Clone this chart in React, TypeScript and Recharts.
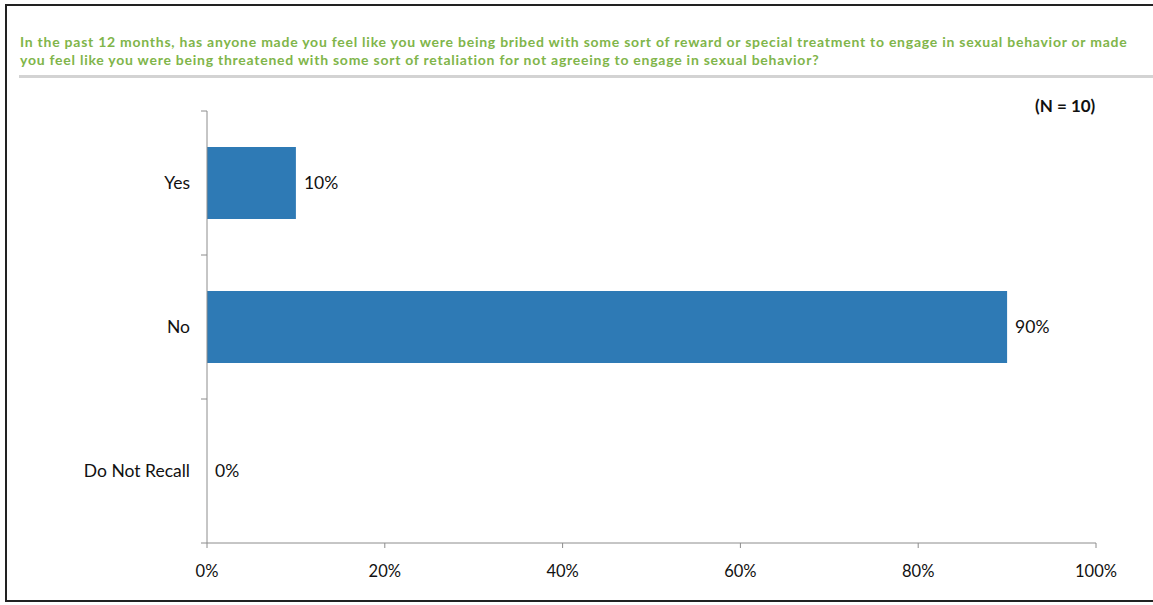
import React from 'react';
import { BarChart, Bar, XAxis, YAxis, LabelList } from 'recharts';

const categories = ['Yes', 'No', 'Do Not Recall'];
const percents = [10, 90, 0];
const xTicks = [0, 20, 40, 60, 80, 100];

const titleLines = [
  'In the past 12 months, has anyone made you feel like you were being bribed with some sort of reward or special treatment to engage in sexual behavior or made',
  'you feel like you were being threatened with some sort of retaliation for not agreeing to engage in sexual behavior?',
];
const sampleNote = '(N = 10)';

const data = categories.map((name, i) => ({ name, value: percents[i] }));

const font = 'Lato, "Open Sans", sans-serif';
const axisColor = '#8c8c8c';
const PLOT_TOP = 111;
const PLOT_BOTTOM = 543;
const band = (PLOT_BOTTOM - PLOT_TOP) / categories.length;

function CategoryTick(props: any) {
  const { x, y, payload, index } = props;
  const last = index === categories.length - 1;
  return (
    <g>
      <line x1={x + 2} x2={x + 8} y1={y - band / 2} y2={y - band / 2} stroke={axisColor} />
      {last && <line x1={x + 2} x2={x + 8} y1={y + band / 2} y2={y + band / 2} stroke={axisColor} />}
      <text x={x - 9} y={y} dy={6} textAnchor="end" fontSize={17.5} fill="#111" fontFamily={font}>
        {payload.value}
      </text>
    </g>
  );
}

export default function App() {
  return (
    <div style={{ position: 'absolute', left: 0, top: 0, width: 1153, height: 605, background: '#fff' }}>
      <div style={{ position: 'absolute', left: 5, top: 4, width: 1150, height: 598, border: '2px solid #222', boxSizing: 'border-box' }} />
      <div style={{ position: 'absolute', left: 20, top: 33, fontFamily: font, fontWeight: 700, fontSize: 14, letterSpacing: 0.75, color: '#80b54a', lineHeight: '18px', whiteSpace: 'nowrap' }}>
        {titleLines.map((t) => (
          <div key={t}>{t}</div>
        ))}
      </div>
      <div style={{ position: 'absolute', left: 19, top: 75, width: 1134, height: 3, background: '#d3d3d3' }} />
      <div style={{ position: 'absolute', left: 1035, top: 95, fontFamily: font, fontWeight: 700, fontSize: 17, color: '#111' }}>
        {sampleNote}
      </div>
      <div style={{ position: 'absolute', left: 0, top: 0 }}>
        <BarChart
          width={1153}
          height={605}
          data={data}
          layout="vertical"
          barCategoryGap="25%"
          margin={{ top: PLOT_TOP, right: 57, left: 0, bottom: 0 }}
        >
          <XAxis
            type="number"
            domain={[0, 100]}
            ticks={xTicks}
            tickFormatter={(v) => `${v}%`}
            height={605 - PLOT_BOTTOM}
            stroke={axisColor}
            tickSize={5}
            tick={{ fill: '#111', fontSize: 16.5, fontFamily: font, dy: 15 }}
          />
          <YAxis
            type="category"
            dataKey="name"
            width={207}
            stroke={axisColor}
            tickLine={false}
            tick={<CategoryTick />}
          />
          <Bar dataKey="value" fill="#2e7ab5" minPointSize={0.01} isAnimationActive={false}>
            <LabelList
              dataKey="value"
              position="right"
              offset={8}
              formatter={(v: any) => `${v}%`}
              style={{ fill: '#111', fontSize: 17.5, fontFamily: font }}
            />
          </Bar>
        </BarChart>
      </div>
    </div>
  );
}
